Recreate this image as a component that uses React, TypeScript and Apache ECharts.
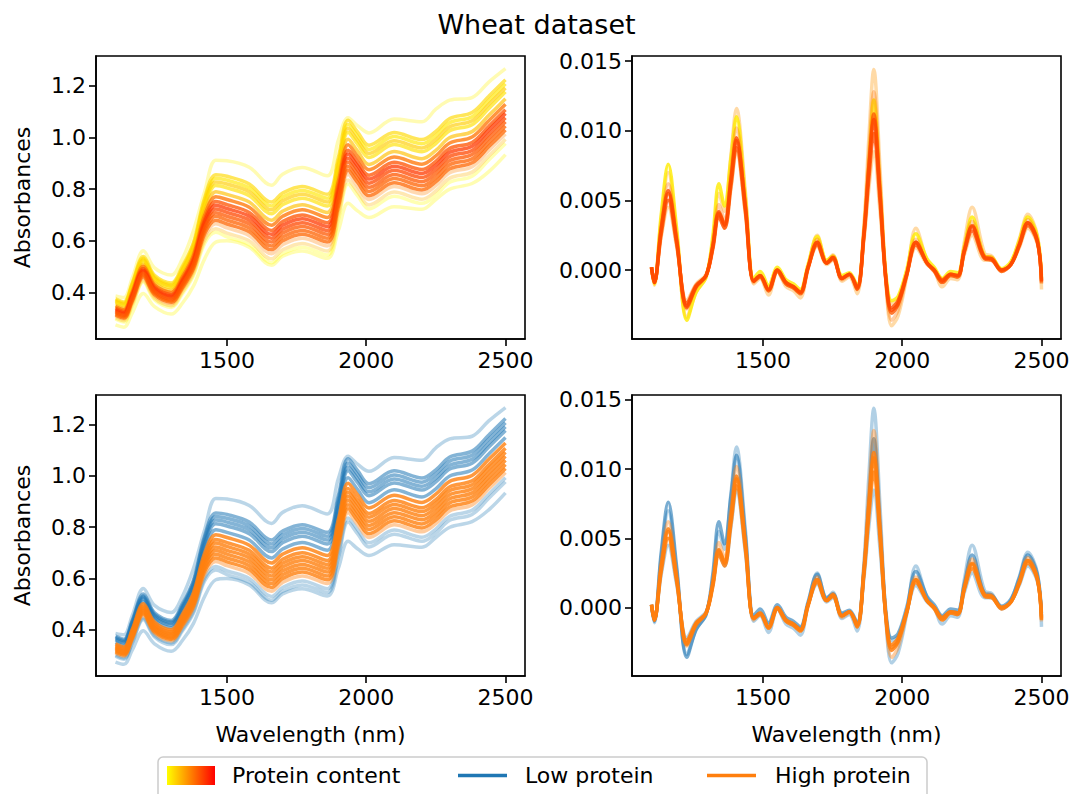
import React, { useEffect, useRef } from "react";
import * as echarts from "echarts";

// ---- Absorbance spectra (left panels) ----
const absWavelengths = [
  1100, 1130, 1160, 1200, 1240, 1300, 1340, 1380, 1420, 1460, 1500, 1580, 1660, 1700,
  1770, 1860, 1900, 1935, 1970, 2010, 2100, 2200, 2250, 2300, 2380, 2440, 2500,
];

const absL1 = [.386,.380,.455,.561,.495,.467,.530,.640,.790,.912,.910,.885,.815,.858,.884,.852,.990,1.077,1.045,1.018,1.072,1.061,1.110,1.145,1.155,1.215,1.267];
const absL2 = [.375,.363,.436,.539,.466,.436,.501,.594,.766,.856,.850,.820,.750,.785,.810,.780,.924,1.067,1.020,.970,1.020,.992,1.024,1.074,1.097,1.160,1.224];
const absL3 = [.370,.358,.431,.532,.460,.430,.494,.586,.755,.842,.835,.805,.735,.770,.795,.765,.909,1.051,1.004,.954,1.004,.976,1.008,1.058,1.081,1.144,1.208];
const absL4 = [.365,.353,.425,.526,.454,.424,.487,.578,.744,.828,.820,.790,.720,.755,.780,.750,.893,1.035,.988,.938,.988,.960,.992,1.042,1.065,1.128,1.192];
const absL5 = [.360,.348,.419,.520,.448,.418,.481,.570,.733,.814,.805,.775,.705,.740,.765,.735,.878,1.020,.973,.923,.973,.945,.977,1.027,1.050,1.113,1.177];
const absL6 = [.351,.339,.410,.509,.438,.408,.469,.556,.714,.790,.780,.750,.680,.715,.740,.710,.852,.993,.946,.896,.946,.918,.950,1.000,1.023,1.086,1.150];
const absL7 = [.297,.285,.347,.440,.372,.342,.395,.465,.590,.633,.615,.585,.515,.550,.575,.545,.682,.820,.773,.723,.773,.745,.777,.827,.850,.913,.977];
const absL8 = [.274,.265,.320,.396,.345,.316,.358,.425,.530,.595,.600,.575,.505,.540,.560,.532,.640,.745,.715,.690,.732,.722,.760,.800,.822,.868,.934];
const absL9 = [.302,.290,.353,.446,.378,.348,.402,.473,.601,.647,.630,.600,.530,.565,.590,.560,.697,.836,.789,.739,.789,.761,.793,.843,.866,.929,.993];
const absH1 = [.345,.333,.402,.501,.430,.400,.460,.545,.699,.771,.760,.730,.660,.695,.720,.690,.831,.972,.925,.875,.925,.897,.929,.979,1.002,1.065,1.129];
const absH2 = [.338,.326,.395,.493,.422,.392,.451,.534,.684,.752,.740,.710,.640,.675,.700,.670,.811,.951,.904,.854,.904,.876,.908,.958,.981,1.044,1.108];
const absH3 = [.333,.321,.389,.486,.416,.386,.445,.526,.673,.738,.725,.695,.625,.660,.685,.655,.795,.936,.889,.839,.889,.861,.893,.943,.966,1.029,1.093];
const absH4 = [.328,.316,.383,.480,.410,.380,.438,.517,.661,.723,.710,.680,.610,.645,.670,.640,.780,.920,.873,.823,.873,.845,.877,.927,.950,1.013,1.077];
const absH5 = [.323,.311,.377,.474,.404,.374,.431,.509,.650,.709,.695,.665,.595,.630,.655,.625,.764,.904,.857,.807,.857,.829,.861,.911,.934,.997,1.061];
const absH6 = [.318,.306,.372,.467,.398,.368,.424,.501,.639,.695,.680,.650,.580,.615,.640,.610,.749,.888,.841,.791,.841,.813,.845,.895,.918,.981,1.045];
const absH7 = [.313,.301,.366,.461,.392,.362,.417,.492,.627,.680,.665,.635,.565,.600,.625,.595,.733,.872,.825,.775,.825,.797,.829,.879,.902,.965,1.029];
const absH8 = [.309,.297,.360,.455,.386,.356,.411,.484,.616,.666,.650,.620,.550,.585,.610,.580,.718,.857,.810,.760,.810,.782,.814,.864,.887,.950,1.014];

// protein level: 0 = lowest (yellow), 1 = highest (red); "high" marks the high-protein class
const absSamples = [
  { values: absL7, level: 0.0, high: false, faint: true },
  { values: absL8, level: 0.02, high: false, faint: true },
  { values: absL1, level: 0.05, high: false, faint: true },
  { values: absL3, level: 0.1, high: false, faint: false },
  { values: absL2, level: 0.15, high: false, faint: false },
  { values: absL4, level: 0.2, high: false, faint: false },
  { values: absL5, level: 0.12, high: false, faint: false },
  { values: absL9, level: 0.3, high: false, faint: true },
  { values: absL6, level: 0.25, high: false, faint: false },
  { values: absH1, level: 0.55, high: true, faint: false },
  { values: absH8, level: 0.5, high: true, faint: true },
  { values: absH6, level: 0.62, high: true, faint: false },
  { values: absH2, level: 0.68, high: true, faint: false },
  { values: absH4, level: 0.72, high: true, faint: false },
  { values: absH7, level: 0.6, high: true, faint: false },
  { values: absH3, level: 0.78, high: true, faint: false },
  { values: absH5, level: 0.66, high: true, faint: false },
];

// ---- First-derivative spectra (right panels) ----
const derivWavelengths = [
  1100, 1110, 1135, 1160, 1190, 1227, 1260, 1296, 1320, 1342, 1362, 1385, 1405, 1437, 1467,
  1490, 1520, 1552, 1583, 1610, 1634, 1662, 1695, 1729, 1751, 1784, 1810, 1838, 1862, 1880,
  1898, 1920, 1942, 1962, 1985, 2016, 2049, 2089, 2115, 2144, 2174, 2199, 2223, 2251, 2296,
  2322, 2357, 2390, 2420, 2451, 2485, 2500,
];

const derivA = [.0001,-.0011,.0037,.0070,.0027,-.0034,-.0016,-.0005,.0020,.0055,.0042,.0082,.0116,.0056,-.0010,-.0006,-.0018,-.0001,-.0012,-.0015,-.0020,.0002,.0025,.0006,.0011,-.0008,-.0005,-.0017,.0030,.0094,.0144,.0074,-.0010,-.0040,-.0033,-.0005,.0030,.0007,.0000,-.0012,-.0006,-.0007,.0020,.0045,.0012,.0010,-.0001,.0005,.0022,.0040,.0025,-.0014];
const derivB = [.0002,-.0010,.0040,.0076,.0030,-.0036,-.0016,-.0005,.0024,.0062,.0046,.0080,.0110,.0052,-.0006,-.0001,-.0011,.0002,-.0007,-.0010,-.0014,.0004,.0024,.0007,.0010,-.0004,-.0002,-.0011,.0026,.0075,.0122,.0060,-.0004,-.0022,-.0019,.0000,.0026,.0008,.0002,-.0006,-.0001,-.0002,.0017,.0038,.0010,.0009,.0001,.0006,.0021,.0038,.0024,-.0006];
const derivC = [.0002,-.0008,.0024,.0045,.0017,-.0022,-.0010,-.0003,.0016,.0040,.0030,.0058,.0085,.0040,-.0007,-.0004,-.0013,.0000,-.0009,-.0012,-.0015,.0002,.0017,.0004,.0007,-.0005,-.0003,-.0012,.0020,.0058,.0085,.0043,-.0007,-.0024,-.0021,-.0003,.0016,.0004,.0000,-.0007,-.0003,-.0004,.0011,.0025,.0007,.0007,.0000,.0004,.0016,.0030,.0019,-.0004];
const derivD = [.0002,-.0009,.0030,.0057,.0022,-.0026,-.0012,-.0004,.0017,.0041,.0032,.0065,.0095,.0045,-.0008,-.0004,-.0014,.0000,-.0009,-.0012,-.0016,.0002,.0020,.0005,.0009,-.0006,-.0003,-.0013,.0024,.0072,.0108,.0055,-.0008,-.0029,-.0024,-.0003,.0020,.0005,.0000,-.0008,-.0003,-.0004,.0014,.0031,.0009,.0008,.0000,.0004,.0018,.0034,.0021,-.0008];
const derivE = [.0002,-.0009,.0033,.0062,.0024,-.0028,-.0013,-.0004,.0019,.0047,.0036,.0071,.0102,.0048,-.0009,-.0005,-.0015,-.0001,-.0010,-.0013,-.0017,.0002,.0022,.0005,.0010,-.0007,-.0004,-.0014,.0028,.0083,.0128,.0064,-.0009,-.0036,-.0029,-.0004,.0022,.0005,.0000,-.0009,-.0004,-.0005,.0016,.0035,.0010,.0009,.0000,.0004,.0019,.0036,.0022,-.0010];
const derivF = [.0002,-.0009,.0026,.0050,.0019,-.0024,-.0011,-.0004,.0015,.0038,.0030,.0060,.0088,.0042,-.0008,-.0004,-.0014,.0000,-.0009,-.0012,-.0016,.0002,.0018,.0005,.0008,-.0006,-.0003,-.0012,.0023,.0065,.0098,.0050,-.0007,-.0027,-.0022,-.0003,.0018,.0005,.0000,-.0007,-.0003,-.0004,.0013,.0028,.0008,.0007,.0000,.0004,.0017,.0032,.0020,-.0007];
const derivG = [.0002,-.0009,.0029,.0055,.0021,-.0027,-.0012,-.0004,.0017,.0042,.0033,.0064,.0093,.0046,-.0008,-.0005,-.0015,-.0001,-.0010,-.0013,-.0017,.0001,.0020,.0005,.0009,-.0006,-.0003,-.0014,.0025,.0074,.0112,.0057,-.0009,-.0031,-.0025,-.0004,.0020,.0005,-.0001,-.0009,-.0004,-.0005,.0014,.0032,.0009,.0008,-.0001,.0004,.0018,.0034,.0021,-.0009];

const derivSamples = [
  { values: derivC, level: 0.4, high: false, faint: true },
  { values: derivA, level: 0.42, high: false, faint: true },
  { values: derivB, level: 0.08, high: false, faint: false },
  { values: derivE, level: 0.55, high: true, faint: true },
  { values: derivF, level: 0.7, high: true, faint: false },
  { values: derivG, level: 0.65, high: true, faint: false },
  { values: derivD, level: 0.72, high: true, faint: false },
];

// ---- Axes and labels ----
const xTicks = [1500, 2000, 2500];
const absTicks = [0.4, 0.6, 0.8, 1.0, 1.2];
const derivTicks = [0, 0.005, 0.01, 0.015];
const titleText = "Wheat dataset";
const xName = "Wavelength (nm)";
const yName = "Absorbances";
const legendLabels = ["Protein content", "Low protein", "High protein"];

const LOW_COLOR = "#1f77b4";
const HIGH_COLOR = "#ff7f0e";
const FONT = "'DejaVu Sans', sans-serif";

// autumn_r colour map: yellow at 0, red at 1
const autumn = (t: number) => `rgb(255,${Math.round(255 * (1 - t))},0)`;

const pairs = (xs: number[], ys: number[]) => xs.map((x, i) => [x, ys[i]]);

export default function App() {
  const ref = useRef<HTMLDivElement>(null);

  useEffect(() => {
    if (!ref.current) return;
    const chart = echarts.init(ref.current, null, { renderer: "svg" });

    const grids = [
      { left: 96, top: 56, width: 429, height: 283 },
      { left: 632, top: 56, width: 429, height: 283 },
      { left: 96, top: 395, width: 429, height: 281 },
      { left: 632, top: 395, width: 429, height: 281 },
    ].map((g) => ({
      ...g,
      show: true,
      borderColor: "#000",
      borderWidth: 1.6,
      backgroundColor: "transparent",
    }));

    const tickStyle = { color: "#000", width: 1.6 };
    const labelStyle = { color: "#000", fontSize: 22, fontFamily: FONT };

    const xAxes = [0, 1, 2, 3].map((i) => ({
      type: "value",
      gridIndex: i,
      min: 1030,
      max: 2570,
      axisLine: { show: true, onZero: false, lineStyle: tickStyle },
      axisTick: { show: true, length: 7, lineStyle: tickStyle, customValues: xTicks },
      axisLabel: { ...labelStyle, margin: 10, customValues: xTicks, formatter: (v: number) => String(v) },
      splitLine: { show: false },
      name: i >= 2 ? xName : "",
      nameLocation: "middle",
      nameGap: 47,
      nameTextStyle: { ...labelStyle },
    }));

    const yAxes = [0, 1, 2, 3].map((i) => {
      const left = i % 2 === 0;
      return {
        type: "value",
        gridIndex: i,
        min: left ? 0.2195 : -0.00495,
        max: left ? 1.316 : 0.01536,
        axisLine: { show: true, onZero: false, lineStyle: tickStyle },
        axisTick: { show: true, length: 7, lineStyle: tickStyle, customValues: left ? absTicks : derivTicks },
        axisLabel: {
          ...labelStyle,
          margin: 10,
          customValues: left ? absTicks : derivTicks,
          formatter: (v: number) => (left ? v.toFixed(1) : v.toFixed(3)),
        },
        splitLine: { show: false },
        name: left ? yName : "",
        nameLocation: "middle",
        nameGap: 63,
        nameRotate: 90,
        nameTextStyle: { ...labelStyle },
      };
    });

    const lineSeries = (
      idx: number,
      xs: number[],
      ys: number[],
      color: string,
      opacity: number,
      width: number
    ) => ({
      type: "line",
      xAxisIndex: idx,
      yAxisIndex: idx,
      data: pairs(xs, ys),
      showSymbol: false,
      smooth: 0.35,
      silent: true,
      lineStyle: { color, width, opacity },
    });

    const series: any[] = [];
    // top-left: absorbance coloured by protein level
    absSamples.forEach((s) =>
      series.push(
        lineSeries(0, absWavelengths, s.values, autumn(s.level), s.faint ? 0.3 : s.high ? 0.75 : 0.65, 3.5)
      )
    );
    // top-right: derivative coloured by protein level
    derivSamples.forEach((s) =>
      series.push(lineSeries(1, derivWavelengths, s.values, autumn(s.level), s.faint ? 0.35 : 0.8, 3.5))
    );
    // bottom panels: low class first, high class drawn on top
    [false, true].forEach((hi) => {
      absSamples
        .filter((s) => s.high === hi)
        .forEach((s) =>
          series.push(
            lineSeries(2, absWavelengths, s.values, hi ? HIGH_COLOR : LOW_COLOR, hi ? (s.faint ? 0.4 : 0.8) : s.faint ? 0.3 : 0.55, 3.5)
          )
        );
      derivSamples
        .filter((s) => s.high === hi)
        .forEach((s) =>
          series.push(
            lineSeries(3, derivWavelengths, s.values, hi ? HIGH_COLOR : LOW_COLOR, hi ? (s.faint ? 0.4 : 0.85) : s.faint ? 0.35 : 0.6, 3.5)
          )
        );
    });

    const legendY = 775.5;
    const legendText = (x: number, text: string) => ({
      type: "text",
      x,
      y: legendY,
      style: { text, fill: "#000", font: `22px ${FONT}`, verticalAlign: "middle", textAlign: "left" },
    });

    chart.setOption({
      animation: false,
      backgroundColor: "#fff",
      title: {
        text: titleText,
        left: "center",
        top: 6,
        textStyle: { fontSize: 27, fontWeight: "normal", fontFamily: FONT, color: "#000" },
      },
      grid: grids,
      xAxis: xAxes,
      yAxis: yAxes,
      series,
      graphic: [
        {
          type: "rect",
          shape: { x: 158, y: 757, width: 769, height: 60, r: 5 },
          style: { fill: "rgba(255,255,255,0.8)", stroke: "#cccccc", lineWidth: 1.5 },
          z: 10,
        },
        {
          type: "rect",
          shape: { x: 167, y: 766, width: 48, height: 19 },
          style: {
            fill: new echarts.graphic.LinearGradient(0, 0, 1, 0, [
              { offset: 0, color: "#ffff00" },
              { offset: 1, color: "#ff0000" },
            ]),
          },
          z: 11,
        },
        { ...legendText(232, legendLabels[0]), z: 11 },
        {
          type: "line",
          shape: { x1: 458, y1: legendY, x2: 507, y2: legendY },
          style: { stroke: LOW_COLOR, lineWidth: 3.4 },
          z: 11,
        },
        { ...legendText(525, legendLabels[1]), z: 11 },
        {
          type: "line",
          shape: { x1: 707, y1: legendY, x2: 756, y2: legendY },
          style: { stroke: HIGH_COLOR, lineWidth: 3.4 },
          z: 11,
        },
        { ...legendText(775, legendLabels[2]), z: 11 },
      ],
    });

    return () => chart.dispose();
  }, []);

  return (
    <div
      ref={ref}
      style={{ position: "fixed", left: 0, top: 0, width: 1073, height: 794, background: "#fff" }}
    />
  );
}
